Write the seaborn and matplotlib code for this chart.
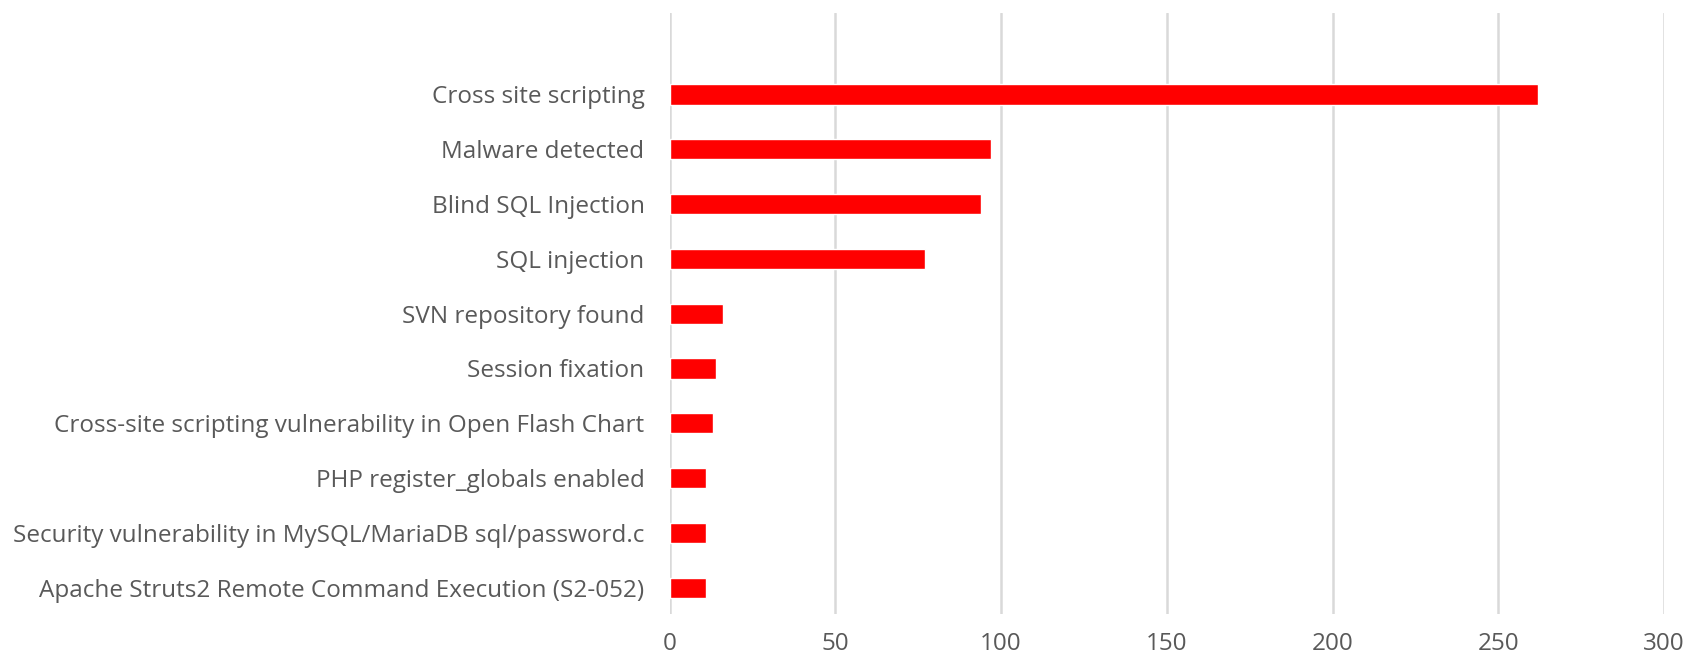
import matplotlib
matplotlib.use("Agg")
import matplotlib.pyplot as plt
import seaborn as sns
import pandas as pd

categories = [
    "Cross site scripting",
    "Malware detected",
    "Blind SQL Injection",
    "SQL injection",
    "SVN repository found",
    "Session fixation",
    "Cross-site scripting vulnerability in Open Flash Chart",
    "PHP register_globals enabled",
    "Security vulnerability in MySQL/MariaDB sql/password.c",
    "Apache Struts2 Remote Command Execution (S2-052)",
]
counts = [262, 97, 94, 77, 16, 14, 13, 11, 11, 11]
x_ticks = [0, 50, 100, 150, 200, 250, 300]

sns.set_theme(style="white")
plt.rcParams["font.family"] = ["Open Sans", "DejaVu Sans"]

df = pd.DataFrame({"category": categories, "count": counts})

fig = plt.figure(figsize=(16.86, 6.62), dpi=100)
ax = fig.add_axes([669.5 / 1686, 1 - 614 / 662, (1664 - 669.5) / 1686, (614 - 13) / 662])

sns.barplot(data=df, x="count", y="category", color="#FF0000", saturation=1,
            width=0.37, orient="h", ax=ax, zorder=3)

ax.set_xlim(0, 300)
ax.set_ylim(9.48, -1.487)
ax.set_xticks(x_ticks)
ax.set_xticklabels([str(t) for t in x_ticks])
ax.xaxis.grid(True, color="#D9D9D9", linewidth=1.8, zorder=0)
ax.set_axisbelow(True)
for s in ax.spines.values():
    s.set_visible(False)
ax.set_xlabel("")
ax.set_ylabel("")
ax.tick_params(axis="x", length=0, pad=13, labelsize=17.5, labelcolor="#595959")
ax.tick_params(axis="y", length=0, pad=18, labelsize=17.5, labelcolor="#595959")

fig.savefig("out.png", dpi=100)
